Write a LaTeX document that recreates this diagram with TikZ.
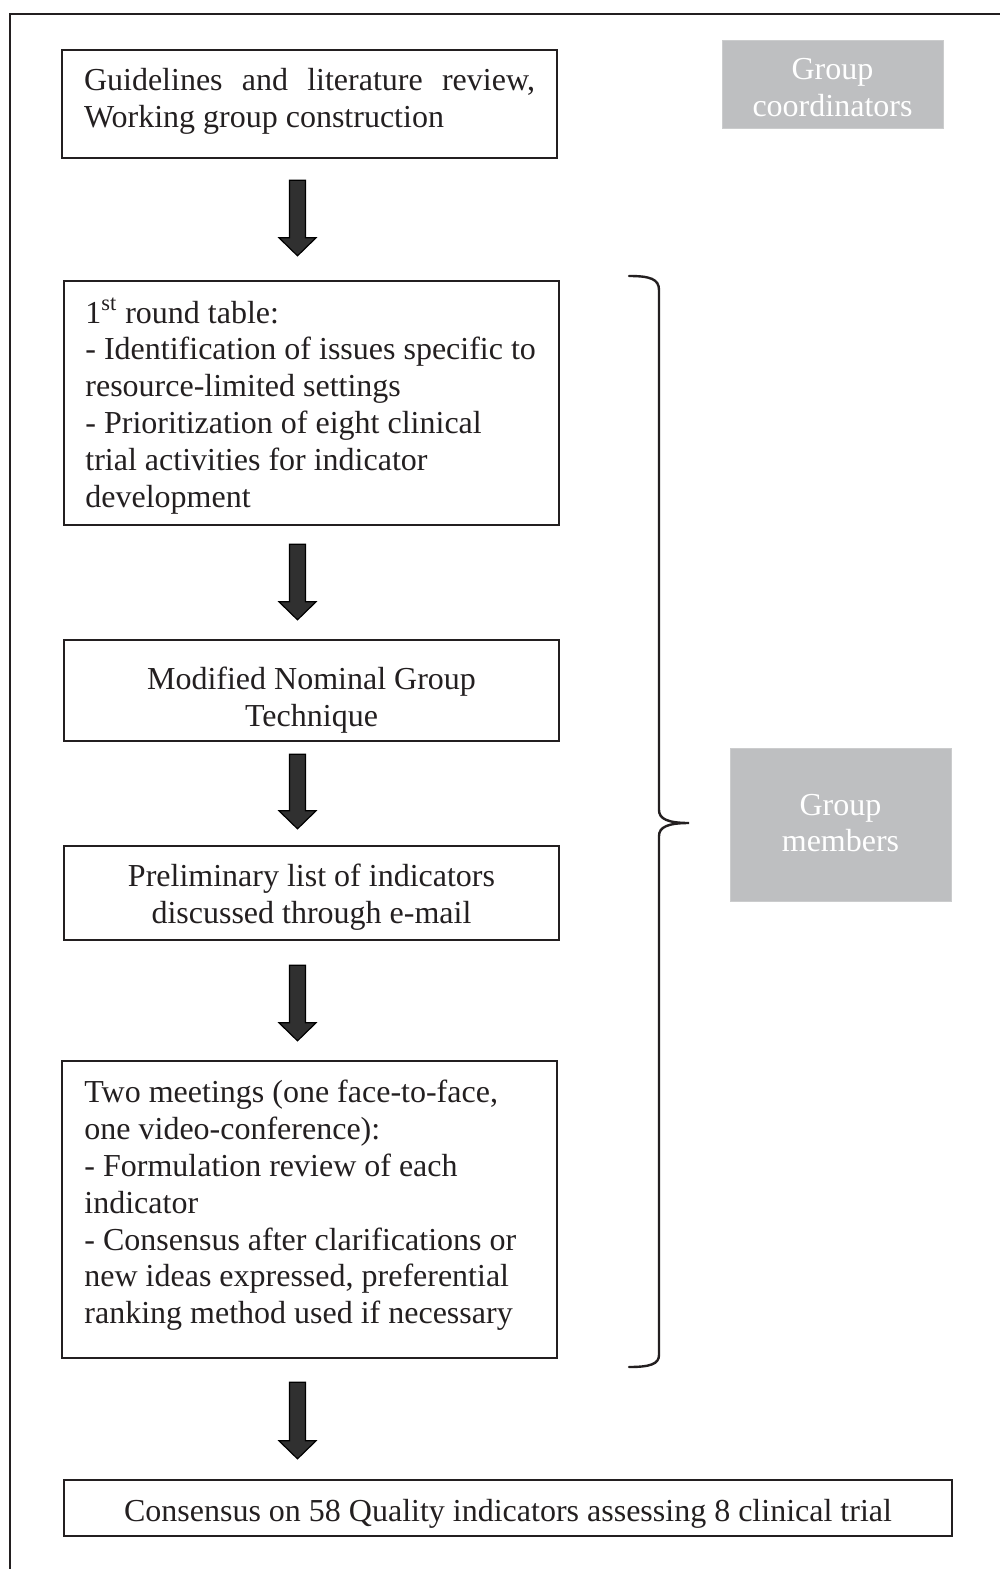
\documentclass[tikz,border=0pt]{standalone}
\usepackage{fontspec}
\setmainfont{Liberation Serif}
\usetikzlibrary{calc}
\definecolor{ink}{RGB}{35,31,32}
\definecolor{greybox}{RGB}{190,191,193}
\definecolor{arrowgrey}{RGB}{48,48,48}
\newcommand\blockarrow[4]{%
  \draw[arrowshape] let \p1=($(#1.south -| ax)+(0,#3)$), \p2=($(#2.north -| ax)+(0,-#4)$) in
  (\x1-4pt,\y1) -- (\x1+4pt,\y1) -- (\x1+4pt,\y2+9pt) -- (\x1+9.25pt,\y2+9pt)
  -- (\x1,\y2) -- (\x1-9.25pt,\y2+9pt) -- (\x1-4pt,\y2+9pt) -- cycle;}
\begin{document}
\begin{tikzpicture}[x=0.5pt,y=-0.5pt,
  every node/.style={font=\fontsize{16}{18.4}\selectfont, text=ink},
  box/.style={draw=ink, line width=1.2pt, rectangle, inner sep=0pt},
  lefttext/.style={anchor=west, align=left, inner sep=0pt},
  centertext/.style={align=center, inner sep=0pt},
  greyfill/.style={fill=greybox, draw=greybox!80!white, line width=0.4pt, inner sep=0pt},
  greytext/.style={text=white, align=center, inner sep=0pt},
  arrowshape/.style={fill=arrowgrey, draw=black, line width=0.6pt, line join=miter},
  framestyle/.style={draw=ink, line width=1.3pt},
  bracestyle/.style={draw=ink, line width=1.2pt, line cap=round}]
\useasboundingbox (0,0) rectangle (1000,1569);
\draw[framestyle] (1000,14) -- (10,14) -- (10,1569);
\coordinate (ax) at (297.5,0);

% boxes
\node[box, minimum width=247.5pt, minimum height=54pt] (b1) at (309.5,104) {};
\node[box, minimum width=247.5pt, minimum height=122pt] (b2) at (311.5,403) {};
\node[box, minimum width=247.5pt, minimum height=50.5pt] (b3) at (311.5,690.5) {};
\node[box, minimum width=247.5pt, minimum height=47pt] (b4) at (311.5,893) {};
\node[box, minimum width=247.5pt, minimum height=148.5pt] (b5) at (309.5,1209.5) {};
\node[box, minimum width=444pt, minimum height=28pt] (b6) at (508,1508) {};

% texts
\node[text width=225.5pt, align=justify, inner sep=0pt] (t1) at (309.5,101.5)
  {Guidelines and literature review,\linebreak Working group construction};
\node[lefttext] (t2) at (85,406)
  {1\textsuperscript{st} round table:\\
   - Identification of issues specific to\\
   resource-limited settings\\
   - Prioritization of eight clinical\\
   trial activities for indicator\\
   development};
\node[centertext] (t3) at (311.5,700.5) {Modified Nominal Group\\Technique};
\node[centertext] (t4) at (311.5,897.5) {Preliminary list of indicators\\discussed through e-mail};
\node[lefttext] (t5) at (84,1205.5)
  {Two meetings (one face-to-face,\\
   one video-conference):\\
   - Formulation review of each\\
   indicator\\
   - Consensus after clarifications or\\
   new ideas expressed, preferential\\
   ranking method used if necessary};
\node[centertext] (t6) at (508,1514)
  {Consensus on 58 Quality indicators assessing 8 clinical trial};

% grey role boxes
\node[greyfill, minimum width=110.5pt, minimum height=44pt] (gc) at (832.5,84) {};
\node[greytext] (gct) at (832.5,87.5) {Group\\coordinators};
\node[greyfill, minimum width=110.5pt, minimum height=76.5pt] (gm) at (840.5,824.5) {};
\node[greytext] (gmt) at (840.5,823) {Group\\members};

% block arrows
\blockarrow{b1}{b2}{21}{24}
\blockarrow{b2}{b3}{18}{19}
\blockarrow{b3}{b4}{12}{16}
\blockarrow{b4}{b5}{24}{19}
\blockarrow{b5}{b6}{23}{20}

% brace
\draw[bracestyle] (629,276) .. controls (650,276) and (659,279) .. (659,290)
  -- (659,810) .. controls (659,819) and (668,823) .. (689,823)
  .. controls (668,823) and (659,827) .. (659,836)
  -- (659,1355) .. controls (659,1364) and (650,1367) .. (629,1367);
\end{tikzpicture}
\end{document}
